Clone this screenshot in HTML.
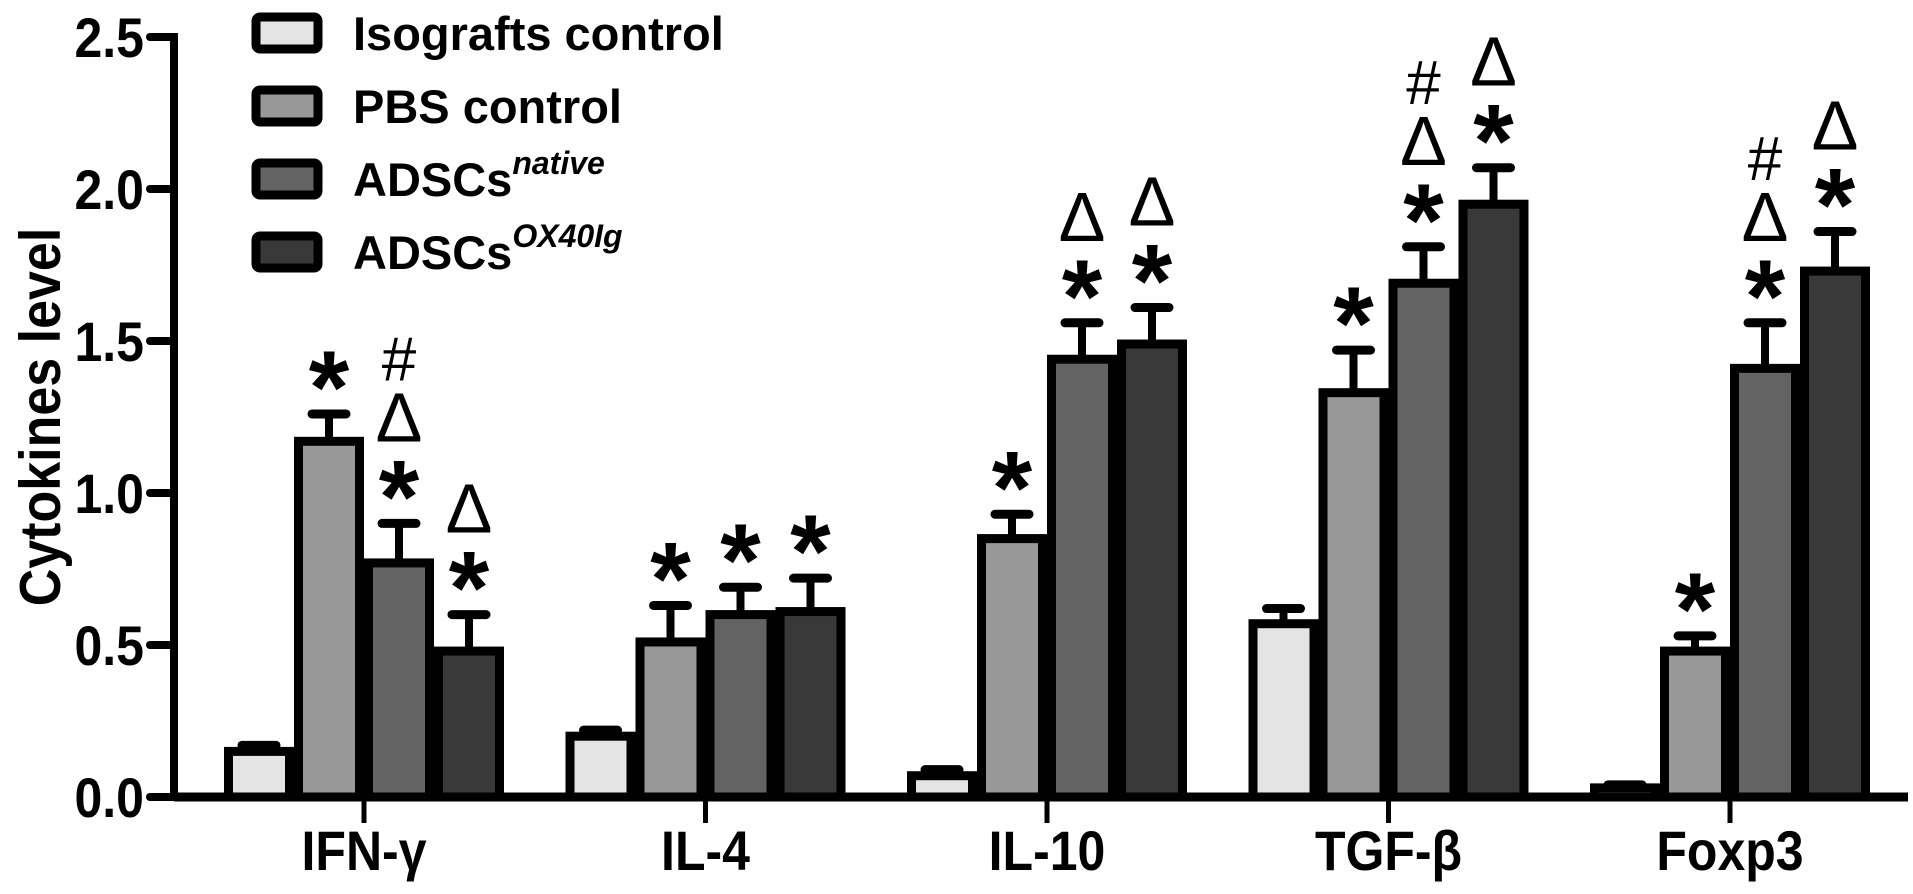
<!DOCTYPE html>
<html><head><meta charset="utf-8"><style>
html,body{margin:0;padding:0;background:#fff;}
svg{display:block;font-family:"Liberation Sans",Arial,sans-serif;font-weight:bold;}
</style></head><body>
<svg id="chart" width="1913" height="894" viewBox="0 0 1913 894">
<g id="legend"></g>
<g id="bars"></g>
<g id="axes"></g>
<text transform="translate(60,417) rotate(-90) scale(1,1.1)" text-anchor="middle" font-size="52">Cytokines level</text>
</svg>
<script>
const categories = ["IFN-γ","IL-4","IL-10","TGF-β","Foxp3"];
const seriesNames = ["Isografts control","PBS control","ADSCs","ADSCs"];
const seriesSup = ["","","native","OX40Ig"];
const isograftsValues = [0.15,0.20,0.07,0.57,0.03];
const pbsValues = [1.17,0.51,0.85,1.33,0.48];
const nativeValues = [0.77,0.60,1.44,1.69,1.41];
const ox40Values = [0.48,0.61,1.49,1.95,1.73];
const isograftsErr = [0.02,0.02,0.02,0.05,0.01];
const pbsErr = [0.09,0.12,0.08,0.14,0.05];
const nativeErr = [0.13,0.09,0.12,0.12,0.15];
const ox40Err = [0.12,0.11,0.12,0.12,0.13];
const annotations = [["","*","*Δ#","*Δ"],["","*","*","*"],["","*","*Δ","*Δ"],["","*","*Δ#","*Δ"],["","*","*Δ#","*Δ"]];
const yTicks = ["0.0","0.5","1.0","1.5","2.0","2.5"];
const yTickVals = [0,0.5,1,1.5,2,2.5];

const NS="http://www.w3.org/2000/svg";
const colors=["#e4e4e4","#989898","#636363","#393939"];
const Y0=797, PPU=304, AXX=174, G0=364, GS=341.5, BW=70;
function y(v){return Y0-v*PPU;}
function gx(i){return G0+i*GS;}
function mk(tag,attrs,parent){const e=document.createElementNS(NS,tag);for(const k in attrs)e.setAttribute(k,attrs[k]);parent.appendChild(e);return e;}
const bars=document.getElementById('bars'), axes=document.getElementById('axes'), legend=document.getElementById('legend');
const vals=[isograftsValues,pbsValues,nativeValues,ox40Values];
const errs=[isograftsErr,pbsErr,nativeErr,ox40Err];

categories.forEach((c,i)=>{
  for(let s=0;s<4;s++){
    const x=gx(i)-2*BW+s*BW, v=vals[s][i], top=y(v), et=y(v+errs[s][i]), cx=x+BW/2;
    const el=mk('line',{x1:cx,y1:top,x2:cx,y2:et,stroke:'#000','stroke-width':8},bars);
    
    
    const cap=mk('line',{x1:cx-17,y1:et,x2:cx+17,y2:et,stroke:'#000','stroke-width':9,'stroke-linecap':'round'},bars);
    
    
    const r=mk('rect',{x:x+4.5,y:top,width:BW-9,height:Y0-top,fill:colors[s],stroke:'#000','stroke-width':9},bars);
    
    
    const ann=annotations[i][s];
    let cy=et-48;
    for(const ch of ann){
      let fs=ch==='*'?104:(ch==='Δ'?70:62), off=ch==='*'?57:(ch==='Δ'?25:23);
      const t=mk('text',{x:cx,y:cy+off,'text-anchor':'middle','font-size':fs,'font-weight':ch==='*'?'bold':'normal'},bars);
      t.textContent=ch;
      
      
      cy-=59;
    }
  }
  const tk=mk('line',{x1:gx(i),y1:Y0,x2:gx(i),y2:Y0+26,stroke:'#000','stroke-width':5},axes);
  
  
  const lb=mk('text',{x:0,y:0,'text-anchor':'middle','font-size':50,transform:`translate(${gx(i)},870) scale(1,1.12)`},axes);
  lb.textContent=c;
  
  
});
const ya=mk('line',{x1:AXX,y1:y(2.5)-4,x2:AXX,y2:Y0+4,stroke:'#000','stroke-width':8},axes);


const xa=mk('line',{x1:AXX,y1:Y0,x2:1908,y2:Y0,stroke:'#000','stroke-width':9},axes);


yTicks.forEach((t,k)=>{
  const yy=y(yTickVals[k]);
  const l=mk('line',{x1:AXX-24,y1:yy,x2:AXX,y2:yy,stroke:'#000','stroke-width':8,'stroke-linecap':'round'},axes);
  
  
  const tx=mk('text',{x:0,y:0,'text-anchor':'end','font-size':50,transform:`translate(${AXX-30},${yy+20}) scale(1,1.12)`},axes);
  tx.textContent=t;
  
  
});
seriesNames.forEach((n,s)=>{
  const yy=33+s*73;
  const r=mk('rect',{x:256,y:yy-16,width:62,height:32,rx:4,fill:colors[s],stroke:'#000','stroke-width':9},legend);
  
  
  const t=mk('text',{x:353,y:yy+17,'font-size':47},legend);
  
  
  t.textContent=n;
  if(seriesSup[s]){
    const sp=mk('tspan',{dy:-22,'font-size':32,'font-style':'italic'},t);
    sp.textContent=seriesSup[s];
  }
});
</script>
</body></html>
